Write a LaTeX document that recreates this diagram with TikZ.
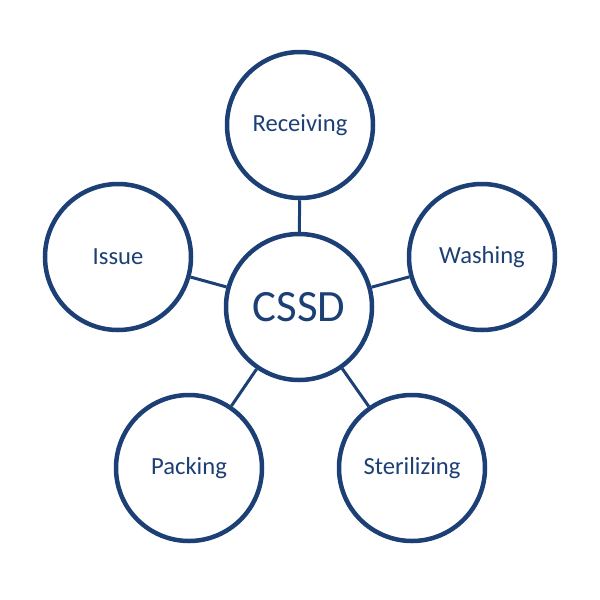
\documentclass[tikz,border=0pt]{standalone}
\usepackage{fontspec}
\setmainfont{Carlito}
\usepackage{xcolor}
\usepackage{tikz}

\definecolor{cssdblue}{RGB}{28,64,118}

\begin{document}
\begin{tikzpicture}[
  stage/.style={circle,draw=cssdblue,line width=0.09cm,fill=white,minimum size=2.92cm,inner sep=0pt,text=cssdblue,font=\fontsize{14}{16}\selectfont},
  link/.style={draw=cssdblue,line width=0.06cm}]

\useasboundingbox (0,0) rectangle (12,-12);

\node[stage,font=\fontsize{25.5}{30}\selectfont] (cssd) at (5.98, -6.14) {CSSD};
\node[stage] (recv) at (6.00, -2.50) {Receiving};
\node[stage] (wash) at (9.64, -5.14) {Washing};
\node[stage] (ster) at (8.24, -9.36) {Sterilizing};
\node[stage] (pack) at (3.78, -9.36) {Packing};
\node[stage] (issue) at (2.36, -5.14) {Issue};

\draw[link] (cssd) -- (recv);
\draw[link] (cssd) -- (wash);
\draw[link] (cssd) -- (ster);
\draw[link] (cssd) -- (pack);
\draw[link] (cssd) -- (issue);

\end{tikzpicture}
\end{document}
